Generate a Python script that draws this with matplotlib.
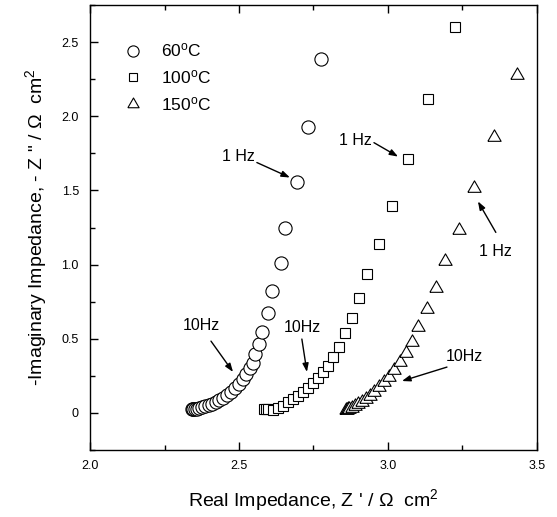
import matplotlib
matplotlib.use('Agg')
import matplotlib.pyplot as plt
from matplotlib.ticker import MultipleLocator, FuncFormatter
import numpy as np

plt.rcParams.update({
    'font.family': 'Liberation Sans',
    'mathtext.fontset': 'custom',
    'mathtext.rm': 'Liberation Sans',
    'mathtext.it': 'Liberation Sans:italic',
    'axes.linewidth': 1.0,
})

# Nyquist data, Z' and -Z'' in ohm cm2
z_re_60 = [2.342, 2.344, 2.347, 2.351, 2.358, 2.366, 2.376, 2.387, 2.398, 2.409,
           2.422, 2.434, 2.447, 2.461, 2.473, 2.487, 2.500, 2.512, 2.523, 2.537,
           2.548, 2.555, 2.568, 2.578, 2.596, 2.612, 2.640, 2.654, 2.694, 2.730, 2.774]
z_im_60 = [0.024, 0.025, 0.025, 0.027, 0.029, 0.034, 0.038, 0.045, 0.054, 0.063,
           0.074, 0.087, 0.103, 0.121, 0.141, 0.166, 0.195, 0.229, 0.262, 0.300,
           0.336, 0.397, 0.464, 0.547, 0.672, 0.823, 1.013, 1.246, 1.556, 1.925, 2.385]

z_re_100 = [2.584, 2.590, 2.597, 2.615, 2.632, 2.649, 2.665, 2.682, 2.699, 2.714,
            2.730, 2.747, 2.764, 2.781, 2.800, 2.817, 2.836, 2.856, 2.878, 2.903,
            2.931, 2.970, 3.012, 3.068, 3.133, 3.225]
z_im_100 = [0.024, 0.027, 0.027, 0.022, 0.034, 0.049, 0.072, 0.094, 0.116, 0.139,
            0.166, 0.200, 0.233, 0.274, 0.318, 0.374, 0.446, 0.540, 0.639, 0.773,
            0.939, 1.141, 1.394, 1.715, 2.118, 2.605]

z_re_150 = [2.860, 2.862, 2.865, 2.870, 2.878, 2.889, 2.900, 2.912, 2.925, 2.940,
            2.954, 2.971, 2.988, 3.004, 3.021, 3.040, 3.059, 3.079, 3.102, 3.130,
            3.160, 3.191, 3.239, 3.289, 3.356, 3.434]
z_im_150 = [0.018, 0.020, 0.024, 0.027, 0.032, 0.045, 0.061, 0.076, 0.094, 0.116,
            0.143, 0.173, 0.206, 0.244, 0.289, 0.341, 0.403, 0.480, 0.580, 0.699,
            0.845, 1.024, 1.233, 1.513, 1.861, 2.280]

labels = ['60$^\\mathrm{o}$C', '100$^\\mathrm{o}$C', '150$^\\mathrm{o}$C']

# equilateral triangle marker
tri = [(-1, -0.577), (1, -0.577), (0, 1.155), (-1, -0.577)]

fig = plt.figure(figsize=(5.57, 5.17), dpi=100)
ax = fig.add_axes([0.1616, 0.1296, 0.8024, 0.8607])

ax.plot(z_re_60, z_im_60, ls='none', marker='o', ms=9.5, mfc='white',
        mec='black', mew=0.8, label=labels[0])
ax.plot(z_re_100, z_im_100, ls='none', marker='s', ms=7.5, mfc='white',
        mec='black', mew=0.8, label=labels[1])
ax.plot(z_re_150, z_im_150, ls='none', marker=tri, ms=11, mfc='white',
        mec='black', mew=0.8, label=labels[2])

# frequency markers
arrow = dict(arrowstyle='-|>,head_length=0.5,head_width=0.18', lw=1.0, color='black',
             shrinkA=0, shrinkB=0)
notes = [
    ('1 Hz', (2.497, 1.728), (2.560, 1.688), (2.671, 1.587)),
    ('1 Hz', (2.889, 1.836), (2.953, 1.822), (3.034, 1.728)),
    ('1 Hz', (3.359, 1.089), (3.362, 1.217), (3.302, 1.426)),
    ('10Hz', (2.372, 0.592), (2.406, 0.484), (2.480, 0.276)),
    ('10Hz', (2.711, 0.578), (2.711, 0.498), (2.728, 0.276)),
    ('10Hz', (3.255, 0.383), (3.198, 0.309), (3.047, 0.215)),
]
for txt, pos, tail, tip in notes:
    ax.text(pos[0], pos[1], txt, ha='center', va='center', fontsize=11.5)
    ax.annotate('', xy=tip, xytext=tail, arrowprops=arrow)

ax.set_xlim(2.0, 3.5)
ax.set_ylim(-0.25, 2.75)
ax.xaxis.set_major_locator(MultipleLocator(0.5))
ax.xaxis.set_minor_locator(MultipleLocator(0.25))
ax.yaxis.set_major_locator(MultipleLocator(0.5))
ax.yaxis.set_minor_locator(MultipleLocator(0.25))
ax.xaxis.set_major_formatter(FuncFormatter(lambda v, p: '%.1f' % v))
ax.yaxis.set_major_formatter(FuncFormatter(lambda v, p: '0' if abs(v) < 1e-9 else '%.1f' % v))
ax.tick_params(which='both', direction='in', top=True, right=False, labelsize=9)
ax.tick_params(axis='x', pad=7)
ax.tick_params(axis='y', pad=8)
ax.tick_params(which='major', length=6, width=1.0)
ax.tick_params(which='minor', length=3.5, width=1.0)

ax.set_xlabel("Real Impedance, Z ' / \u03a9  cm$^2$", fontsize=14, labelpad=11)
ax.set_ylabel('-Imaginary Impedance, - Z " / \u03a9  cm$^2$', fontsize=14, labelpad=9)

ax.legend(loc='upper left', frameon=False, fontsize=12.5, handletextpad=0.6,
          borderaxespad=1.0, labelspacing=0.5, bbox_to_anchor=(0.003, 0.972),
          markerscale=0.85)

fig.savefig('out.png', dpi=100)
